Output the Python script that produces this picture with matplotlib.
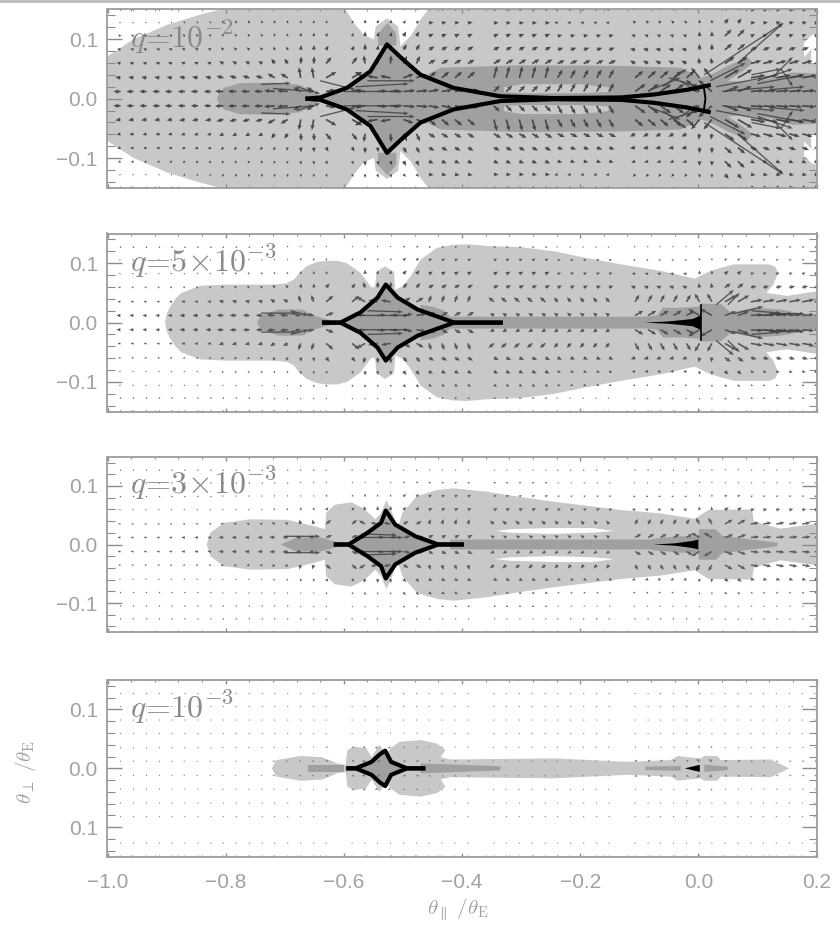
import numpy as np
import matplotlib
matplotlib.use('Agg')
import matplotlib.pyplot as plt
from matplotlib.patches import Rectangle
from matplotlib.ticker import FixedLocator, FixedFormatter

plt.rcParams['font.family'] = ['Liberation Sans', 'DejaVu Sans']
plt.rcParams['mathtext.fontset'] = 'cm'

LIGHT = '#c8c8c8'
DARK = '#a0a0a0'
TEXT = '#a2a2a2'

panel_labels = [r'$q\!=\!10^{-2}$', r'$q\!=\!5\!\times\!10^{-3}$', r'$q\!=\!3\!\times\!10^{-3}$', r'$q\!=\!10^{-3}$']
x_tick_values = [-1.0, -0.8, -0.6, -0.4, -0.2, 0.0, 0.2]
x_tick_labels = ['\u22121.0', '\u22120.8', '\u22120.6', '\u22120.4', '\u22120.2', '0.0', '0.2']
y_tick_values = [-0.1, 0.0, 0.1]
y_tick_labels = ['\u22120.1', '0.0', '0.1']
y_tick_labels_last = ['0.1', '0.0', '0.1']

# arrow grid
grid_x = [-0.978, -0.956, -0.934, -0.912, -0.891, -0.869, -0.847, -0.825, -0.804, -0.782,
          -0.760, -0.738, -0.717, -0.695, -0.673, -0.651, -0.630, -0.586, -0.564, -0.543,
          -0.521, -0.499, -0.477, -0.456, -0.434, -0.412, -0.390, -0.346, -0.325, -0.303,
          -0.281, -0.259, -0.238, -0.216, -0.194, -0.172, -0.151, -0.107, -0.085, -0.064,
          -0.042, -0.020, 0.002, 0.023, 0.045, 0.067, 0.089, 0.110, 0.132, 0.154, 0.176, 0.197]
grid_y = [0.012, 0.035, 0.059, 0.082, 0.105, 0.127, 0.149]
seg_right = [-0.88, -0.82, -0.73, -0.68, -0.635, -0.585, -0.545, -0.515, -0.47, -0.38, -0.25,
             -0.115, -0.02, 0.03, 0.08, 0.21]

# arrow angle (deg) and length (0.001 data units), one row per grid_y, upper half
p1_ang = [[180, 180, 178, 175, 150, 10, 175, 5, 5, 10, 45, 60, 35, 140, 20, 5],
          [172, 170, 165, 150, 100, 30, 150, 170, 20, 40, 75, 60, 40, 130, 30, 10],
          [165, 160, 150, 125, 85, 50, 100, 85, 65, 30, 30, 25, 150, 100, 35, 15],
          [155, 150, 135, 110, 85, 60, 90, 80, 60, 30, 28, 20, 170, 90, 40, 20],
          [150, 140, 125, 105, 85, 65, 90, 70, 60, 25, 25, 15, 160, 90, 45, 25],
          [140, 130, 115, 100, 85, 65, 90, 75, 45, 10, 5, 165, 130, 90, 50, 10],
          [135, 120, 110, 95, 80, 60, 90, 70, 30, 5, 5, 170, 120, 90, 60, 5]]
low_ang = [[180, 180, 178, 175, 170, 20, 175, 5, 10, 30, 150, 145, 30, 150, 20, 5],
           [172, 170, 165, 150, 110, 40, 150, 170, 30, 70, 140, 130, 60, 120, 30, 10],
           [165, 160, 150, 125, 85, 50, 110, 85, 50, 30, 25, 25, 160, 100, 35, 15],
           [155, 150, 135, 110, 85, 60, 90, 80, 50, 30, 28, 20, 170, 90, 40, 20],
           [150, 140, 125, 105, 85, 65, 90, 70, 45, 25, 25, 15, 160, 90, 45, 25],
           [140, 130, 115, 100, 85, 65, 90, 75, 40, 10, 5, 170, 130, 90, 50, 10],
           [135, 120, 110, 95, 80, 60, 90, 70, 30, 5, 5, 170, 120, 90, 60, 5]]
p1_len = [[12, 12, 14, 18, 14, 16, 16, 16, 20, 18, 14, 16, 22, 30, 25, 22],
          [9, 10, 12, 14, 18, 20, 20, 18, 18, 16, 20, 16, 18, 22, 28, 25],
          [7, 7, 8, 10, 12, 14, 14, 14, 14, 13, 14, 13, 10, 10, 20, 18],
          [6, 6, 6, 6, 8, 8, 10, 8, 11, 11, 11, 10, 9, 10, 16, 12],
          [5, 5, 5, 5, 6, 6, 8, 7, 9, 9, 9, 8, 7, 8, 16, 8],
          [3, 4, 5, 5, 5, 5, 6, 6, 6, 8, 8, 6, 6, 6, 10, 8],
          [2, 3, 3, 3, 3, 3, 3, 3, 4, 4, 5, 5, 6, 3, 8, 8]]
p2_len = [[7, 9, 11, 13, 12, 14, 14, 14, 16, 12, 8, 8, 16, 22, 20, 20],
          [5, 6, 8, 9, 12, 16, 16, 16, 14, 12, 12, 10, 14, 16, 22, 20],
          [4, 4, 5, 6, 7, 9, 10, 10, 10, 10, 9, 8, 8, 8, 12, 10],
          [3, 3, 4, 4, 5, 5, 7, 6, 8, 8, 8, 6, 6, 6, 8, 6],
          [3, 3, 3, 3, 4, 4, 5, 4, 6, 6, 6, 5, 4, 4, 5, 4],
          [2, 2, 2, 3, 3, 3, 3, 3, 4, 4, 4, 3, 3, 3, 4, 4],
          [2, 2, 2, 2, 2, 2, 2, 2, 3, 3, 3, 3, 2, 2, 3, 3]]
p3_len = [[5, 6, 8, 9, 9, 11, 11, 11, 12, 9, 7, 7, 12, 16, 15, 14],
          [4, 4, 5, 6, 8, 11, 12, 12, 10, 9, 9, 8, 10, 12, 15, 14],
          [3, 3, 3, 4, 5, 6, 7, 7, 7, 7, 7, 6, 6, 6, 8, 7],
          [2, 2, 3, 3, 3, 4, 5, 4, 6, 6, 5, 4, 4, 4, 5, 4],
          [2, 2, 2, 2, 3, 3, 3, 3, 4, 4, 4, 3, 3, 3, 3, 3],
          [2, 2, 2, 2, 2, 2, 2, 2, 2, 3, 3, 2, 2, 2, 3, 3],
          [1, 1, 1, 1, 1, 1, 1, 1, 2, 2, 2, 2, 1, 1, 2, 2]]
p4_len = [[2, 3, 3, 4, 4, 5, 6, 6, 5, 4, 3, 3, 5, 7, 5, 4],
          [2, 2, 3, 3, 3, 4, 5, 5, 4, 3, 3, 3, 3, 4, 3, 3],
          [2, 2, 2, 2, 2, 2, 3, 3, 3, 2, 2, 2, 2, 2, 2, 2],
          [2, 2, 2, 2, 2, 2, 2, 2, 2, 2, 2, 2, 2, 2, 2, 2],
          [1.5, 1.5, 1.5, 1.5, 1.5, 1.5, 1.5, 1.5, 1.5, 1.5, 1.5, 1.5, 1.5, 1.5, 1.5, 1.5],
          [1.5, 1.5, 1.5, 1.5, 1.5, 1.5, 1.5, 1.5, 1.5, 1.5, 1.5, 1.5, 1.5, 1.5, 1.5, 1.5],
          [1.5, 1.5, 1.5, 1.5, 1.5, 1.5, 1.5, 1.5, 1.5, 1.5, 1.5, 1.5, 1.5, 1.5, 1.5, 1.5]]

# the strong individual arrows
p1_ex_x = [0.010, 0.067, 0.09, 0.10, 0.12, 0.13, 0.14, 0.10, 0.03, 0.04, 0.02, -0.06, -0.05, -0.03, -0.08,
           -0.64, -0.60, -0.56, -0.58, -0.72, -0.74, -0.68]
p1_ex_y = [0.04, 0.06, 0.04, 0.03, 0.015, 0.04, 0.05, 0.025, 0.02, 0.012, 0.03, 0.02, 0.035, 0.03, 0.015,
           0.03, 0.012, 0.03, 0.02, 0.017, 0.024, 0.02]
p1_ex_u = [0.134, 0.077, 0.05, 0.06, 0.06, 0.03, 0.02, 0.08, 0.08, 0.09, 0.06, 0.04, 0.05, 0.03, 0.05,
           0.06, 0.10, 0.08, 0.09, 0.07, 0.05, 0.04]
p1_ex_v = [0.087, 0.067, 0.01, 0.02, 0.005, 0.03, -0.03, 0.015, 0.015, 0.008, 0.03, 0.03, -0.015, -0.02, 0.02,
           -0.015, 0.0, 0.0, 0.005, -0.005, 0.002, -0.012]
p2_ex_x = [0.03, 0.05, 0.06, 0.10, 0.09, 0.12, -0.58, -0.56, -0.74, -0.69]
p2_ex_y = [0.03, 0.03, 0.015, 0.012, 0.02, 0.015, 0.012, 0.02, 0.016, 0.02]
p2_ex_u = [0.03, 0.02, 0.05, 0.06, 0.05, 0.06, 0.09, 0.06, 0.06, 0.03]
p2_ex_v = [0.025, 0.02, 0.012, 0.003, -0.004, 0.0, 0.0, -0.002, 0.0, -0.008]
p3_ex_x = [-0.58, -0.57, -0.70]
p3_ex_y = [0.012, 0.018, 0.014]
p3_ex_u = [0.08, 0.06, 0.06]
p3_ex_v = [0.0, -0.002, 0.0]

# upper outlines of the shaded regions, mirrored about y=0 when drawn
p1_light_x = [-1.0, -0.957, -0.899, -0.843, -0.809, -0.597, -0.583, -0.566, -0.549, -0.546, -0.527, -0.508,
              -0.504, -0.487, -0.47, -0.457, 0.2]
p1_light_y = [0.071, 0.099, 0.124, 0.141, 0.15, 0.15, 0.127, 0.107, 0.099, 0.121, 0.135, 0.121,
              0.088, 0.105, 0.133, 0.15, 0.15]
p1_white_x = [0.178, 0.192, 0.2, 0.2, 0.19]
p1_white_y = [0.083, 0.096, 0.098, 0.073, 0.072]
p1_dark_left_x = [-0.815, -0.81, -0.803, -0.776, -0.72, -0.674, -0.645, -0.62]
p1_dark_left_y = [0.0, 0.01, 0.018, 0.026, 0.027, 0.023, 0.006, 0.0]
p1_dark_cusp_x = [-0.543, -0.527, -0.512]
p1_dark_cusp_y = [0.11, 0.128, 0.11]
p1_dark_band_x = [-0.47, -0.436, -0.301, -0.131, -0.03, 0.004, 0.021, 0.05, 0.084, 0.092, 0.072, 0.05, 0.075,
                  0.12, 0.16, 0.203]
p1_dark_band_y = [0.035, 0.052, 0.056, 0.055, 0.052, 0.035, 0.04, 0.055, 0.069, 0.06, 0.044, 0.03, 0.028,
                  0.033, 0.044, 0.042]
p1_gap_x = [-0.33, -0.30, -0.20, -0.153]
p1_gap_lo = [0.012, 0.01, 0.01, 0.012]
p1_gap_hi = [0.02, 0.025, 0.025, 0.02]

p2_light_x = [-0.9025, -0.9, -0.895, -0.885, -0.875, -0.843, -0.80, -0.72, -0.697, -0.685, -0.675, -0.663, -0.645,
              -0.629, -0.61, -0.595, -0.572, -0.553, -0.547, -0.545, -0.53, -0.515, -0.513, -0.50, -0.487, -0.47,
              -0.442, -0.415, -0.392, -0.357, -0.30, -0.244, -0.19, -0.131, -0.063, -0.006, 0.02, 0.06, 0.12,
              0.13, 0.135, 0.127, 0.115, 0.15, 0.203]
p2_light_y = [0.0, 0.014, 0.025, 0.04, 0.05, 0.062, 0.064, 0.064, 0.066, 0.072, 0.084, 0.095, 0.102,
              0.104, 0.104, 0.100, 0.084, 0.059, 0.06, 0.085, 0.095, 0.085, 0.055, 0.0616, 0.078, 0.106,
              0.126, 0.131, 0.132, 0.129, 0.127, 0.12, 0.109, 0.098, 0.087, 0.074, 0.087, 0.098, 0.098,
              0.094, 0.084, 0.064, 0.05, 0.045, 0.053]
p2_dark_left_x = [-0.747, -0.74, -0.71, -0.67, -0.651, -0.62]
p2_dark_left_y = [0.0, 0.012, 0.022, 0.022, 0.012, 0.003]
p2_dark_wing_x = [-0.47, -0.45, -0.43, -0.41]
p2_dark_wing_y = [0.03, 0.027, 0.02, 0.0]
p2_dark_band_x = [-0.43, -0.33, -0.09, -0.07, -0.06, -0.03, 0.0, 0.005, 0.039, 0.055, 0.096, 0.14, 0.203]
p2_dark_band_y = [0.01, 0.01, 0.01, 0.012, 0.025, 0.025, 0.027, 0.032, 0.031, 0.017, 0.025, 0.022, 0.01]

p3_light_x = [-0.832, -0.826, -0.803, -0.758, -0.695, -0.649, -0.632, -0.63, -0.615, -0.587, -0.564, -0.547,
              -0.537, -0.528, -0.518, -0.512, -0.507, -0.501, -0.476, -0.442, -0.414, -0.357, -0.30, -0.244,
              -0.131, -0.063, -0.006, 0.017, 0.091, 0.094, 0.139, 0.203]
p3_light_y = [0.0, 0.02, 0.037, 0.043, 0.042, 0.031, 0.026, 0.054, 0.068, 0.072, 0.06, 0.043,
              0.054, 0.076, 0.054, 0.037, 0.034, 0.054, 0.083, 0.093, 0.096, 0.09, 0.081, 0.073,
              0.059, 0.053, 0.044, 0.059, 0.06, 0.039, 0.027, 0.036]
p3_white_x = [-0.345, -0.318, -0.25, -0.18, -0.143]
p3_white_lo = [0.024, 0.021, 0.019, 0.021, 0.024]
p3_white_hi = [0.024, 0.027, 0.029, 0.029, 0.024]
p3_dark_left_x = [-0.707, -0.68, -0.64, -0.61]
p3_dark_left_y = [0.0, 0.012, 0.012, 0.004]
p3_dark_band_x = [-0.42, -0.08, -0.075, -0.03, 0.0, 0.001, 0.03, 0.04, 0.134]
p3_dark_band_y = [0.0085, 0.0085, 0.01, 0.014, 0.014, 0.026, 0.026, 0.015, 0.003]

p4_light_x = [-0.722, -0.714, -0.674, -0.637, -0.611, -0.597, -0.594, -0.583, -0.562, -0.553, -0.54, -0.528,
              -0.5205, -0.506, -0.47, -0.442, -0.428, -0.436, -0.42, -0.244, -0.12, -0.047, -0.035, -0.018,
              0.004, 0.01, 0.032, 0.038, 0.123, 0.154]
p4_light_y = [0.0, 0.014, 0.021, 0.019, 0.0085, 0.006, 0.031, 0.037, 0.034, 0.019, 0.04, 0.025,
              0.034, 0.045, 0.048, 0.042, 0.031, 0.019, 0.015, 0.017, 0.011, 0.014, 0.021, 0.019,
              0.017, 0.021, 0.021, 0.014, 0.015, 0.0]
p4_dark_left_x = [-0.66, -0.60]
p4_dark_left_y = [0.0057, 0.0057]
p4_dark_tail_x = [-0.47, -0.335]
p4_dark_tail_y = [0.0085, 0.0035]
p4_dark_mid_x = [-0.09, -0.03]
p4_dark_mid_y = [0.003, 0.004]
p4_dark_right_x = [0.01, 0.05]
p4_dark_right_y = [0.006, 0.003]

# caustics, upper half
p1_ca_x = [-0.665, -0.64, -0.595, -0.555, -0.527, -0.499, -0.47, -0.414, -0.335, -0.245, -0.131, -0.075, -0.018, 0.021]
p1_ca_y = [0.0, 0.002, 0.018, 0.046, 0.091, 0.065, 0.04, 0.018, 0.004, 0.001, 0.002, 0.007, 0.015, 0.023]
p2_ca_x = [-0.637, -0.606, -0.572, -0.543, -0.529, -0.509, -0.475, -0.413, -0.331]
p2_ca_y = [0.0, 0.0, 0.017, 0.042, 0.064, 0.042, 0.022, 0.0, 0.0]
p3_ca_x = [-0.617, -0.592, -0.56, -0.537, -0.529, -0.513, -0.479, -0.44, -0.397]
p3_ca_y = [0.0, 0.0, 0.02, 0.037, 0.058, 0.034, 0.014, 0.0, 0.0]
p4_ca_x = [-0.596, -0.58, -0.553, -0.539, -0.53, -0.52, -0.493, -0.462]
p4_ca_y = [0.0, 0.0, 0.011, 0.024, 0.03, 0.011, 0.0, 0.0]
p2_wedge_x = [-0.091, -0.05, -0.01, 0.004]
p2_wedge_y = [0.0, 0.002, 0.006, 0.012]
p3_wedge_x = [-0.076, -0.04, -0.01, 0.0]
p3_wedge_y = [0.0, 0.002, 0.006, 0.0085]
p4_wedge_x = [-0.023, 0.0025]
p4_wedge_y = [0.0, 0.006]

panel_tops = [9.3, 233.5, 456.7, 680.0]
panel_bottoms = [188.0, 411.7, 632.3, 856.7]


def fill_mirror(ax, xs, ys, color, zorder):
    xx = list(xs) + list(xs)[::-1]
    yy = list(ys) + [-v for v in list(ys)[::-1]]
    ax.fill(xx, yy, color=color, lw=0, zorder=zorder)


def fill_band(ax, xs, lo, hi, color, zorder):
    ax.fill_between(xs, lo, hi, color=color, lw=0, zorder=zorder)
    ax.fill_between(xs, -np.array(lo), -np.array(hi), color=color, lw=0, zorder=zorder)


def draw_arrows(ax, lengths, angles, width, color, skip_lower=()):
    col_seg = np.searchsorted(seg_right, grid_x)
    for i, y in enumerate(grid_y):
        ln = np.array(lengths[i])[col_seg] * 0.001
        an = np.radians(np.array(angles[i])[col_seg])
        u = ln * np.cos(an)
        v = ln * np.sin(an)
        ax.quiver(grid_x, [y] * len(grid_x), u, v, angles='xy', scale_units='xy', scale=1,
                  units='dots', width=width, headwidth=2.6, headlength=3, headaxislength=2.6,
                  color=color, alpha=0.9, zorder=3)
        if i not in skip_lower:
            ax.quiver(grid_x, [-y] * len(grid_x), u, -v, angles='xy', scale_units='xy', scale=1,
                      units='dots', width=width, headwidth=2.6, headlength=3, headaxislength=2.6,
                      color=color, alpha=0.9, zorder=3)


def draw_extra(ax, xs, ys, us, vs):
    for sign in (1, -1):
        ax.quiver(xs, sign * np.array(ys), us, sign * np.array(vs), angles='xy', scale_units='xy', scale=1,
                  units='dots', width=1.3, headwidth=3, headlength=4, headaxislength=3.5,
                  color='#404040', alpha=0.85, zorder=3)


def draw_caustic(ax, xs, ys):
    ax.plot(xs, ys, color='black', lw=3.0, zorder=5, solid_capstyle='butt')
    ax.plot(xs, -np.array(ys), color='black', lw=3.0, zorder=5, solid_capstyle='butt')


def style_axes(ax, idx):
    ax.set_xlim(-1.0, 0.2)
    ax.set_ylim(-0.15, 0.15)
    for s in ax.spines.values():
        s.set_color('#9c9c9c')
        s.set_linewidth(1.3)
        s.set_zorder(6)
    ax.xaxis.set_major_locator(FixedLocator(x_tick_values))
    ax.xaxis.set_minor_locator(FixedLocator([v / 100 for v in range(-100, 21, 4)]))
    ax.yaxis.set_major_locator(FixedLocator(y_tick_values))
    ax.yaxis.set_minor_locator(FixedLocator([v / 100 for v in range(-14, 15, 2)]))
    ax.tick_params(axis='x', which='major', direction='in', top=True, length=3, width=1, color='#8c8c8c',
                   labelsize=15, labelcolor=TEXT, pad=12)
    ax.tick_params(axis='x', which='minor', direction='in', top=True, length=1.5, width=0.8, color='#8c8c8c')
    ax.tick_params(axis='y', which='major', direction='in', right=True, length=10.5, width=1, color='#8c8c8c',
                   labelsize=15, labelcolor=TEXT, pad=7)
    ax.tick_params(axis='y', which='minor', direction='in', right=True, length=5.5, width=0.8, color='#8c8c8c')
    if idx == 3:
        ax.xaxis.set_major_formatter(FixedFormatter(x_tick_labels))
        ax.yaxis.set_major_formatter(FixedFormatter(y_tick_labels_last))
    else:
        ax.set_xticklabels([])
        ax.yaxis.set_major_formatter(FixedFormatter(y_tick_labels))
    ax.text(-0.962, 0.086, panel_labels[idx], fontsize=23, color='#8a8a8a', va='baseline', ha='left', zorder=7)


def main():
    fig = plt.figure(figsize=(8.4, 9.26), dpi=100)
    fig.add_artist(Rectangle((0, 1 - 2.5 / 926), 1, 2.5 / 926, transform=fig.transFigure, color='#c0c0c0', lw=0))
    axes = []
    for top, bottom in zip(panel_tops, panel_bottoms):
        axes.append(fig.add_axes([107.5 / 840, 1 - bottom / 926, 709 / 840, (bottom - top) / 926]))

    ax = axes[0]
    fill_mirror(ax, p1_light_x, p1_light_y, LIGHT, 1)
    fill_band(ax, p1_white_x, [p - 0.012 for p in p1_white_y], [p + 0.012 for p in p1_white_y], 'white', 2)
    fill_mirror(ax, p1_dark_left_x, p1_dark_left_y, DARK, 2)
    fill_band(ax, p1_dark_cusp_x, [0.09, 0.09, 0.09], p1_dark_cusp_y, DARK, 2)
    fill_mirror(ax, p1_dark_band_x, p1_dark_band_y, DARK, 2)
    fill_band(ax, p1_gap_x, p1_gap_lo, p1_gap_hi, LIGHT, 2.5)
    fill_mirror(ax, p1_ca_x, p1_ca_y, DARK, 2)
    draw_arrows(ax, p1_len, p1_ang, 1.7, '#3c3c3c')
    draw_extra(ax, p1_ex_x, p1_ex_y, p1_ex_u, p1_ex_v)
    draw_caustic(ax, p1_ca_x, p1_ca_y)
    ax.plot([0.009, 0.012, 0.009], [0.022, 0.0, -0.022], color='black', lw=1.4, zorder=5)

    ax = axes[1]
    fill_mirror(ax, p2_light_x, p2_light_y, LIGHT, 1)
    fill_mirror(ax, p2_dark_left_x, p2_dark_left_y, DARK, 2)
    fill_mirror(ax, p2_dark_wing_x, p2_dark_wing_y, DARK, 2)
    fill_mirror(ax, p2_dark_band_x, p2_dark_band_y, DARK, 2)
    fill_mirror(ax, p2_ca_x, p2_ca_y, DARK, 2)
    draw_arrows(ax, p2_len, low_ang, 1.6, '#484848')
    draw_extra(ax, p2_ex_x, p2_ex_y, p2_ex_u, p2_ex_v)
    draw_caustic(ax, p2_ca_x, p2_ca_y)
    fill_mirror(ax, p2_wedge_x, p2_wedge_y, 'black', 5)
    ax.plot([0.004, 0.004], [-0.03, 0.03], color='black', lw=1.2, zorder=5)

    ax = axes[2]
    fill_mirror(ax, p3_light_x, p3_light_y, LIGHT, 1)
    fill_band(ax, p3_white_x, p3_white_lo, p3_white_hi, 'white', 1.5)
    fill_mirror(ax, p3_dark_left_x, p3_dark_left_y, DARK, 2)
    fill_mirror(ax, p3_dark_band_x, p3_dark_band_y, DARK, 2)
    fill_mirror(ax, p3_ca_x, p3_ca_y, DARK, 2)
    draw_arrows(ax, p3_len, low_ang, 1.5, '#505050')
    draw_extra(ax, p3_ex_x, p3_ex_y, p3_ex_u, p3_ex_v)
    draw_caustic(ax, p3_ca_x, p3_ca_y)
    fill_mirror(ax, p3_wedge_x, p3_wedge_y, 'black', 5)

    ax = axes[3]
    fill_mirror(ax, p4_light_x, p4_light_y, LIGHT, 1)
    fill_mirror(ax, p4_dark_left_x, p4_dark_left_y, DARK, 2)
    fill_mirror(ax, p4_dark_tail_x, p4_dark_tail_y, DARK, 2)
    fill_mirror(ax, p4_dark_mid_x, p4_dark_mid_y, DARK, 2)
    fill_mirror(ax, p4_dark_right_x, p4_dark_right_y, DARK, 2)
    fill_mirror(ax, p4_ca_x, p4_ca_y, DARK, 2)
    draw_arrows(ax, p4_len, low_ang, 1.4, '#777777', skip_lower=(4,))
    draw_caustic(ax, p4_ca_x, p4_ca_y)
    fill_mirror(ax, p4_wedge_x, p4_wedge_y, 'black', 5)

    for i, ax in enumerate(axes):
        style_axes(ax, i)

    fig.text(458 / 840, 1 - 910 / 926, r'$\theta_{\parallel}\ /\theta_{\rm E}$', fontsize=15, color=TEXT,
             ha='center', va='center')
    fig.text(25 / 840, 1 - 772 / 926, r'$\theta_{\perp}\ /\theta_{\rm E}$', fontsize=15, color=TEXT,
             ha='center', va='center', rotation=90)
    fig.savefig('out.png', dpi=100)


if __name__ == "__main__":
    main()
